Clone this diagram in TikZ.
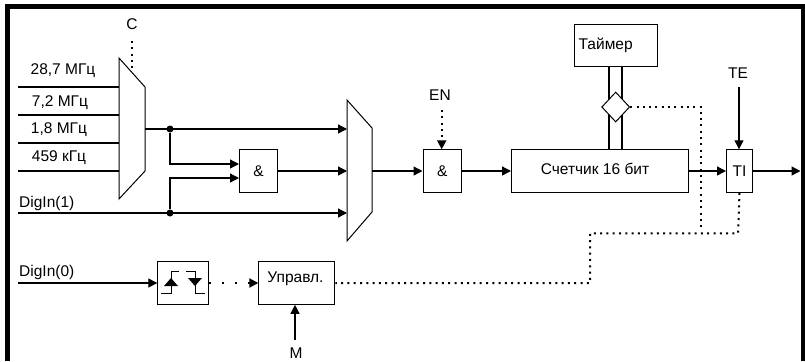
\documentclass[tikz,border=0pt]{standalone}
\usepackage{fontspec}
\setmainfont{Liberation Sans}
\usetikzlibrary{arrows.meta,shapes.geometric}
\tikzset{
  x=1bp,y=-1bp,
  wire/.style={line width=1.3bp,black},
  arr/.style={wire,-{Triangle[length=9bp,width=9bp]}},
  dots/.style={line width=2bp,black,dash pattern=on 2bp off 4.3bp},
  sparse/.style={line width=2bp,black,dash pattern=on 2bp off 11bp},
  dotarr/.style={dots,-{Triangle[length=9bp,width=9bp]}},
  sparsearr/.style={sparse,-{Triangle[length=9bp,width=9bp]}},
  boxn/.style={draw=black,line width=1bp,fill=white,inner sep=0pt,anchor=north west,font=\fontsize{15.5bp}{18bp}\selectfont},
  lab/.style={inner sep=0pt,font=\fontsize{15.5bp}{18bp}\selectfont},
  labw/.style={lab,anchor=west},
  mux/.style={draw=black,line width=1bp,fill=white,line join=miter},
  junction/.style={circle,fill=black,inner sep=0pt,minimum size=7bp},
}
\begin{document}
\begin{tikzpicture}
\useasboundingbox (0,0) rectangle (805,361);
% frame
\fill[black] (5,361) rectangle (10,4);
\fill[black] (5,4) rectangle (805,8.5);
\fill[black] (800.5,4) rectangle (805,361);
% named ports
\coordinate (i1) at (18,87); \coordinate (i2) at (18,115); \coordinate (i3) at (18,143); \coordinate (i4) at (18,171);
\coordinate (m1i1) at (119,87); \coordinate (m1i2) at (119,115); \coordinate (m1i3) at (119,143); \coordinate (m1i4) at (119,171);
\coordinate (m1out) at (145,129);
\coordinate (m2i1) at (347,129); \coordinate (m2i2) at (347,171); \coordinate (m2i3) at (347,213);
\coordinate (m2out) at (372,171);
\coordinate (d1) at (18,213);
\coordinate (d0) at (18,283);
\coordinate (rightout) at (800.5,171);
\coordinate (cs) at (132,41); \coordinate (ct) at (132,71);
\coordinate (ens) at (441.7,110);
\coordinate (tes) at (739,87);
\coordinate (ms) at (295,340);
\coordinate (c1) at (701,230);
\coordinate (c2) at (590,233.3);
\coordinate (c3) at (590,283);
\coordinate (c4) at (738,233.3);
% muxes
\draw[mux] (119,58) -- (145,87) -- (145,171) -- (119,199) -- cycle;
\draw[mux] (347,100) -- (372,128) -- (372,212) -- (347,241) -- cycle;
% boxes
\node[boxn,minimum width=38bp,minimum height=42.5bp] (and1) at (239,149.3) {\&};
\node[boxn,minimum width=38.5bp,minimum height=42.5bp] (and2) at (422.5,149.3) {\&};
\node[boxn,minimum width=177bp,minimum height=42.5bp] (cnt) at (511,149.3) {};
\node[lab] (cntl) at (595,169) {Счетчик 16 бит};
\node[boxn,minimum width=82.5bp,minimum height=42bp] (tim) at (574,23.5) {};
\node[labw] (timl) at (578.5,45.5) {Таймер};
\node[boxn,minimum width=26bp,minimum height=42.5bp] (ti) at (726,149.3) {TI};
\node[boxn,minimum width=51bp,minimum height=42.5bp] (edge) at (157.3,261.3) {};
\node[boxn,minimum width=76bp,minimum height=42.5bp] (ctl) at (258.3,261.3) {};
\node[lab] (ctll) at (295.5,279) {Управл.};
% labels
\node[lab] (l1) at (63,71) {28,7 МГц};
\node[lab] (l2) at (60,103) {7,2 МГц};
\node[lab] (l3) at (59,130) {1,8 МГц};
\node[lab] (l4) at (59,158) {459 кГц};
\node[lab] (lc) at (132,24) {C};
\node[lab] (len) at (440,95) {EN};
\node[lab] (lte) at (738,73) {TE};
\node[lab] (lm) at (296,353) {M};
\node[labw] (ld1) at (19,203) {DigIn(1)};
\node[labw] (ld0) at (19,272) {DigIn(0)};
% input wires
\draw[wire] (i1) -- (m1i1);
\draw[wire] (i2) -- (m1i2);
\draw[wire] (i3) -- (m1i3);
\draw[wire] (i4) -- (m1i4);
% junctions
\node[junction] (j1) at (170,129) {};
\node[junction] (j2) at (170,213) {};
% main wires
\draw[arr] (m1out) -- (m2i1);
\draw[arr] (d1) -- (m2i3);
\draw[arr] (j1) |- (and1.west |- 0,164);
\draw[arr] (j2) |- (and1.west |- 0,178);
\draw[arr] (and1.east |- m2i2) -- (m2i2);
\draw[arr] (m2out) -- (and2.west |- m2out);
\draw[arr] (and2.east |- m2out) -- (cnt.west |- m2out);
\draw[arr] (cnt.east |- m2out) -- (ti.west |- m2out);
\draw[arr] (ti.east |- m2out) -- (rightout);
\draw[arr] (tes) -- (ti.north -| tes);
\draw[arr] (d0) -- (edge.west |- d0);
\draw[arr] (ms) -- (ctl.south -| ms);
% bus
\draw[wire] (tim.south -| 609,0) -- (cnt.north -| 609,0);
\draw[wire] (tim.south -| 622,0) -- (cnt.north -| 622,0);
\node[diamond,draw=black,fill=white,line width=1bp,inner sep=0pt,minimum width=28bp,minimum height=30bp] (dia) at (615.7,107) {};
% dotted
\draw[dots] (cs) -- (ct);
\draw[dotarr] (ens) -- (and2.north -| ens);
\draw[dots] (dia.east) -| (c1);
\draw[dots] (ti.south) -- (c4) -- (c2) -- (c3) -- (ctl.east |- c3);
\draw[sparsearr] (edge.east |- d0) -- (ctl.west |- d0);
% edge symbols
\draw[line width=1bp] (161,293) -- (171,293) -- (171,271) -- (179,271);
\draw[line width=1bp] (186,271) -- (195,271) -- (195,293) -- (205,293);
\fill[black] (171,278) -- (178,286) -- (164,286) -- cycle;
\fill[black] (195,286) -- (188,278) -- (202,278) -- cycle;
\end{tikzpicture}
\end{document}
